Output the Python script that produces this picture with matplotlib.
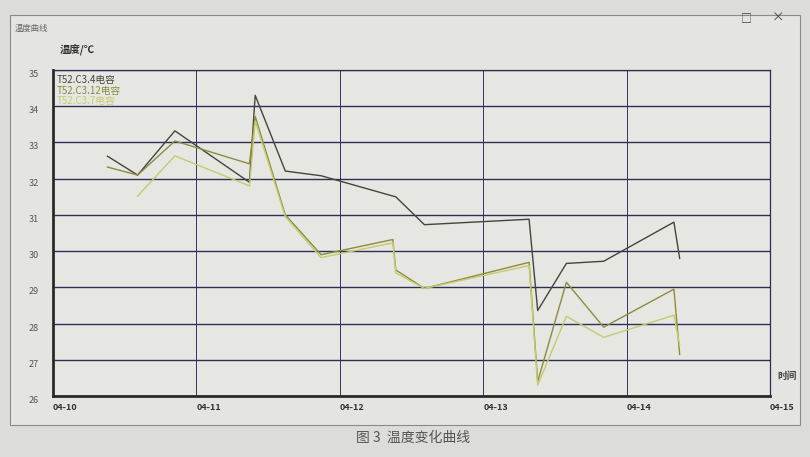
import matplotlib
matplotlib.use("Agg")
import matplotlib.pyplot as plt
from matplotlib.patches import Rectangle

plt.rcParams['font.family'] = ['Noto Sans CJK SC', 'DejaVu Sans']

# time in days (04-10 = 10)
times = [10.38, 10.59, 10.85, 11.37, 11.41, 11.62, 11.87, 12.37, 12.39, 12.59,
         13.32, 13.38, 13.58, 13.84, 14.33, 14.37]
t_c34 = [32.62, 32.10, 33.32, 31.90, 34.30, 32.21, 32.08, 31.52, 31.50, 30.73,
         30.88, 28.36, 29.66, 29.72, 30.80, 29.80]
t_c312 = [32.32, 32.10, 33.04, 32.41, 33.72, 31.00, 29.90, 30.32, 29.48, 28.97,
          29.69, 26.40, 29.14, 27.90, 28.95, 27.15]
t_c37 = [None, 31.52, 32.63, 31.80, 33.59, 30.95, 29.82, 30.23, 29.40, 28.97,
         29.60, 26.30, 28.20, 27.62, 28.23, 27.40]
series_names = ["T52.C3.4电容", "T52.C3.12电容", "T52.C3.7电容"]
series_colors = ["#45453a", "#8c8c3c", "#c4cc6c"]
day_ticks = [10, 11, 12, 13, 14, 15]
day_labels = ["04-10", "04-11", "04-12", "04-13", "04-14", "04-15"]
y_ticks = list(range(26, 36))

fig = plt.figure(figsize=(8.1, 4.57), dpi=100)
fig.patch.set_facecolor("#dcdcd9")

# window frame
win = Rectangle((10 / 810, 1 - 425 / 457), 790 / 810, 410 / 457,
                transform=fig.transFigure, facecolor="#e4e4e1",
                edgecolor="#8a8a8a", lw=0.8, zorder=-1)
fig.patches.append(win)
fig.text(15 / 810, 1 - 28 / 457, "温度曲线", fontsize=6, color="#666666", va="center")
fig.text(746 / 810, 1 - 18 / 457, "□", fontsize=8, color="#444444", ha="center", va="center")
fig.text(778 / 810, 1 - 18 / 457, "×", fontsize=9, color="#444444", ha="center", va="center")
fig.text(413 / 810, 1 - 438 / 457, "图 3  温度变化曲线", fontsize=10, color="#555555",
         ha="center", va="center")

ax = fig.add_axes([53 / 810, 1 - 396 / 457, 717 / 810, 326 / 457])
ax.set_zorder(2)
ax.set_facecolor("#e6e6e3")

ys = [t_c34, t_c312, t_c37]
for vals, c in zip(ys, series_colors):
    xs = [t for t, v in zip(times, vals) if v is not None]
    vs = [v for v in vals if v is not None]
    ax.plot(xs, vs, color=c, lw=1.0, zorder=3)

ax.set_xlim(10, 15)
ax.set_ylim(26, 35)
ax.set_xticks(day_ticks)
ax.set_xticklabels(day_labels, fontsize=6.5, color="#333333", fontweight="bold")
ax.set_yticks(y_ticks)
ax.set_yticklabels([str(v) for v in y_ticks], fontsize=6.5, color="#555555")
for lab in ax.get_xticklabels():
    lab.set_ha("left")
for lab in ax.get_yticklabels():
    lab.set_va("top")
ax.tick_params(length=0, pad=10)
ax.tick_params(axis="x", pad=5)
ax.grid(True, axis="y", color="#2e2e55", lw=1.0, zorder=1)
ax.grid(True, axis="x", color="#34345e", lw=0.7, zorder=1)

for side in ["left", "bottom"]:
    ax.spines[side].set_linewidth(2.0)
    ax.spines[side].set_color("#2a2a2a")
for side in ["top", "right"]:
    ax.spines[side].set_linewidth(0.9)
    ax.spines[side].set_color("#2e2e55")

for i, (name, c) in enumerate(zip(series_names, series_colors)):
    ax.text(0.005, 0.985 - i * 0.033, name, transform=ax.transAxes, fontsize=7,
            color=c, va="top", ha="left", zorder=4)

fig.text(60 / 810, 1 - 50 / 457, "温度/℃", fontsize=7.5, color="#333333",
         fontweight="bold", va="center")
fig.text(787 / 810, 1 - 376 / 457, "时间", fontsize=7, color="#444444",
         fontweight="bold", ha="center", va="center")

fig.savefig("out.png", dpi=100, facecolor=fig.get_facecolor())
